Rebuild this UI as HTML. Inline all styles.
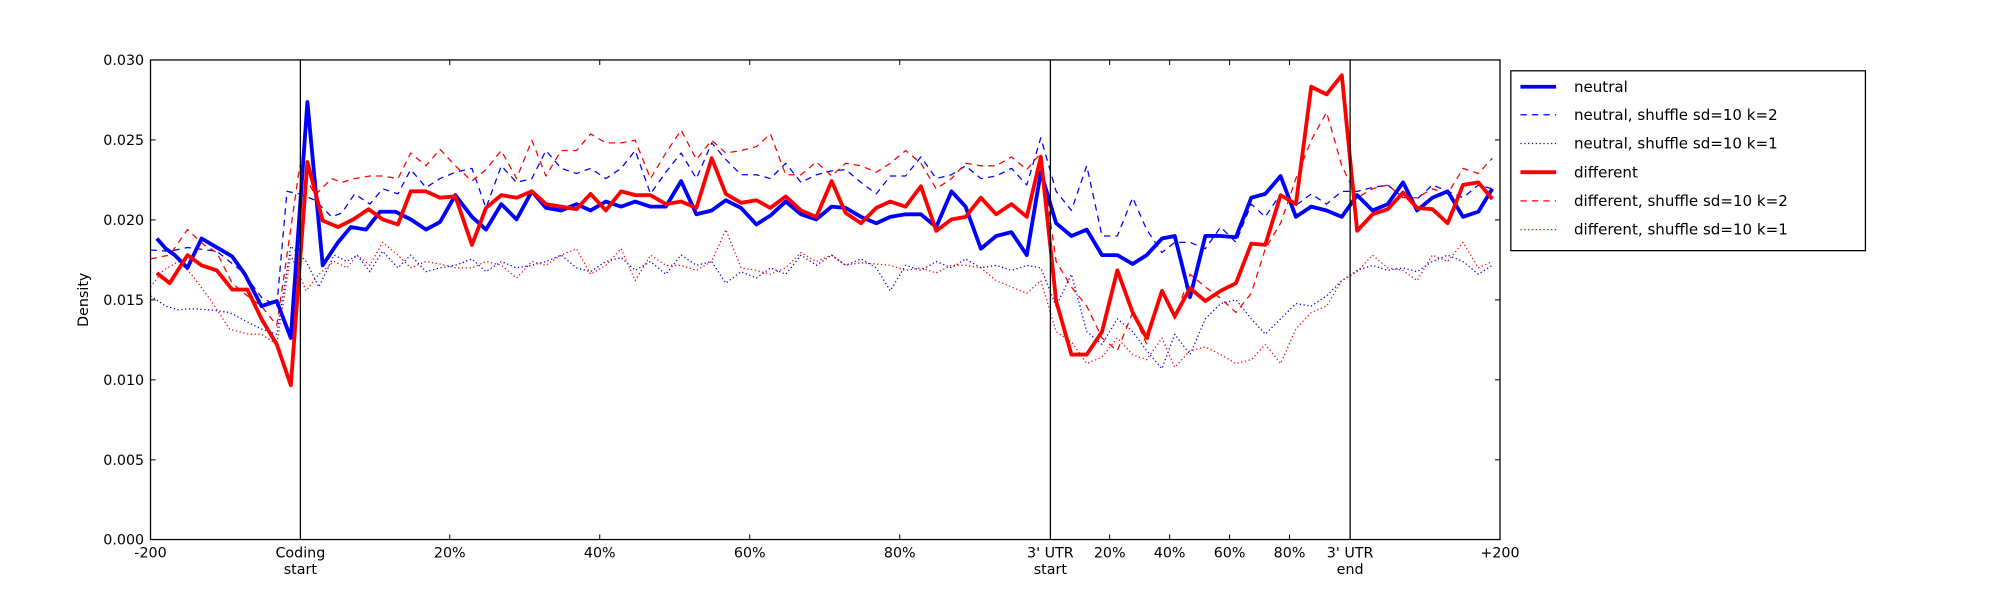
<!DOCTYPE html>
<html><head><meta charset="utf-8"><style>html,body{margin:0;padding:0;background:#fff}svg{display:block}</style></head>
<body>
<svg width="2000" height="600" viewBox="0 0 1568 470.4" preserveAspectRatio="none" xmlns="http://www.w3.org/2000/svg" font-family="DejaVu Sans, Liberation Sans, sans-serif" font-size="11.2">
<rect x="0" y="0" width="1568" height="470.4" fill="#fff"/>
<g fill="none" stroke-linejoin="round">
<!-- blue dotted -->
<polyline stroke="#0000ff" stroke-width="1" stroke-dasharray="1,2" points="118,232 130,240 140,243 150,242 165,243 180,245 195,253 205,258 217,262 228,193 240,205 250,225 262,200 272,205 280,200 290,213 300,197 312,210 322,200 334,213 345,210 357,208 370,203 381,213 393,205 405,210 417,208 428,205 440,200 452,210 463,213 475,205 487,202 498,212 510,205 522,215 534,200 546,208 558,205 569,222 581,213 593,218 604,210 616,215 628,200 640,208 652,200 663,208 675,203 687,210 698,228 710,208 722,212 734,205 746,210 757,203 769,210 781,208 793,212 805,208 816,210 828,240 840,215 852,260 864,270 876,250 888,260 899,275 911,289 921,262 933,278 945,250 957,238 969,235 981,250 992,262 1004,250 1016,238 1028,240 1040,232 1052,220 1064,212 1076,208 1088,212 1100,210 1111,213 1123,205 1135,200 1147,205 1159,215 1170,208"/>
<!-- red dotted -->
<polyline stroke="#ff0000" stroke-width="1" stroke-dasharray="1,2" points="118,225 128,212 140,205 150,215 165,235 180,258 195,262 205,262 217,270 228,200 240,228 250,215 262,205 272,210 280,200 290,208 300,190 312,200 322,210 334,205 345,207 357,210 370,210 381,205 393,208 405,218 417,205 428,208 440,200 452,195 463,215 475,208 487,195 498,220 510,200 522,208 534,208 546,212 558,205 569,180 581,210 593,212 604,215 616,210 628,198 640,205 652,200 663,208 675,206 687,207 698,208 710,212 722,210 734,214 746,208 757,208 769,210 781,220 793,225 805,230 816,220 828,260 840,268 852,285 864,280 876,265 888,278 899,282 911,265 921,288 933,275 945,272 957,278 969,285 981,282 992,270 1004,285 1016,258 1028,245 1040,240 1052,220 1064,213 1076,200 1088,210 1100,212 1111,220 1123,200 1135,205 1147,190 1159,210 1170,205"/>
<!-- blue dashed -->
<polyline stroke="#0000ff" stroke-width="1" stroke-dasharray="5,4" points="118,196 133,197 147,194 170,197 190,213 205,233 217,240 225,150 235,152 247,157 260,170 268,167 278,152 290,160 300,148 312,152 322,133 334,147 345,140 357,135 370,132 381,163 393,130 405,143 417,140 428,118 440,132 452,136 463,132 475,140 487,132 498,118 510,152 522,135 534,120 546,140 558,112 569,125 581,137 593,137 604,140 616,128 628,143 640,137 652,134 663,133 675,143 687,152 698,138 710,138 722,123 734,140 746,137 757,130 769,140 781,138 793,132 805,145 816,108 828,150 840,165 852,130 864,185 876,185 888,155 899,180 911,198 921,190 933,190 945,195 957,178 969,190 981,160 992,170 1004,152 1016,161 1028,152 1040,160 1052,150 1064,150 1076,147 1088,145 1100,155 1111,156 1123,145 1135,150 1147,155 1159,145 1170,148"/>
<!-- red dashed -->
<polyline stroke="#ff0000" stroke-width="1" stroke-dasharray="5,4" points="118,203 133,200 147,180 160,192 170,198 182,222 194,232 205,240 217,255 225,200 235,130 247,153 260,140 268,143 278,140 290,138 300,138 312,140 322,120 334,130 345,117 357,130 370,142 381,133 393,118 405,140 417,110 428,138 440,118 452,118 463,105 475,112 487,112 498,110 510,140 522,120 534,102 546,125 558,110 569,120 581,118 593,115 604,105 616,137 628,137 640,127 652,138 663,128 675,130 687,135 698,128 710,118 722,128 734,148 746,140 757,128 769,130 781,130 793,123 805,133 816,120 828,205 840,225 852,240 864,265 876,275 888,245 899,270 911,228 921,250 933,215 945,225 957,234 969,245 981,230 992,195 1004,175 1016,140 1028,110 1040,88 1052,130 1064,155 1076,148 1088,145 1100,155 1111,155 1123,148 1135,152 1147,132 1159,136 1170,124"/>
<!-- blue thick -->
<polyline stroke="#0000ff" stroke-width="3" points="123,187 130,195 137,200 147,210 158,187 170,194 182,201 192,215 205,240 217,236 228,265 241,80 253,208 265,190 275,178 287,180 298,166 310,166 322,172 334,180 345,174 357,153 370,170 381,180 393,160 405,172 417,150 428,163 440,165 452,160 463,165 475,158 487,162 498,158 510,162 522,162 534,142 546,168 558,165 569,157 581,163 593,176 604,169 616,158 628,168 640,172 652,162 663,163 675,170 687,175 698,170 710,168 722,168 734,178 746,150 757,162 769,195 781,185 793,182 805,200 816,135 828,175 840,185 852,180 864,200 876,200 888,207 899,200 911,187 921,185 933,233 945,185 957,185 969,186 981,155 992,152 1004,138 1016,170 1028,162 1040,165 1052,170 1064,153 1076,165 1088,160 1100,143 1111,165 1123,155 1135,150 1147,170 1159,166 1170,148"/>
<!-- red thick -->
<polyline stroke="#ff0000" stroke-width="3" points="123,214 133,222 147,200 158,208 170,212 182,227 194,227 205,250 217,270 228,302 241,127 253,173 265,178 277,172 289,164 300,172 312,176 322,150 334,150 345,155 357,154 370,192 381,163 393,153 405,155 417,150 428,160 440,162 452,164 463,152 475,165 487,150 498,153 510,153 522,160 534,158 546,163 558,124 569,152 581,159 593,157 604,163 616,154 628,165 640,170 652,142 663,167 675,175 687,163 698,158 710,162 722,146 734,181 746,172 757,170 769,155 781,168 793,160 805,170 816,123 828,236 840,278 852,278 864,260 876,212 888,245 899,265 911,228 921,248 933,226 945,236 957,228 969,222 981,191 992,192 1004,153 1016,160 1028,68 1040,74 1052,59 1064,181 1076,168 1088,164 1100,151 1111,163 1123,164 1135,175 1147,145 1159,143 1170,156"/>
</g>
<!-- vertical lines -->
<g stroke="#000" stroke-width="1">
<line x1="235.5" y1="47" x2="235.5" y2="423"/>
<line x1="823.5" y1="47" x2="823.5" y2="423"/>
<line x1="1058.5" y1="47" x2="1058.5" y2="423"/>
</g>
<!-- ticks -->
<g stroke="#000" stroke-width="0.8">
<line x1="118" y1="109.7" x2="122" y2="109.7"/><line x1="1176" y1="109.7" x2="1172" y2="109.7"/>
<line x1="118" y1="172.4" x2="122" y2="172.4"/><line x1="1176" y1="172.4" x2="1172" y2="172.4"/>
<line x1="118" y1="235.1" x2="122" y2="235.1"/><line x1="1176" y1="235.1" x2="1172" y2="235.1"/>
<line x1="118" y1="297.8" x2="122" y2="297.8"/><line x1="1176" y1="297.8" x2="1172" y2="297.8"/>
<line x1="118" y1="360.5" x2="122" y2="360.5"/><line x1="1176" y1="360.5" x2="1172" y2="360.5"/>
<line x1="352.6" y1="423" x2="352.6" y2="419"/><line x1="352.6" y1="47" x2="352.6" y2="51"/>
<line x1="470.2" y1="423" x2="470.2" y2="419"/><line x1="470.2" y1="47" x2="470.2" y2="51"/>
<line x1="587.8" y1="423" x2="587.8" y2="419"/><line x1="587.8" y1="47" x2="587.8" y2="51"/>
<line x1="705.4" y1="423" x2="705.4" y2="419"/><line x1="705.4" y1="47" x2="705.4" y2="51"/>
<line x1="870" y1="423" x2="870" y2="419"/><line x1="870" y1="47" x2="870" y2="51"/>
<line x1="917" y1="423" x2="917" y2="419"/><line x1="917" y1="47" x2="917" y2="51"/>
<line x1="964" y1="423" x2="964" y2="419"/><line x1="964" y1="47" x2="964" y2="51"/>
<line x1="1011" y1="423" x2="1011" y2="419"/><line x1="1011" y1="47" x2="1011" y2="51"/>
</g>
<rect x="118" y="47" width="1058" height="376" fill="none" stroke="#000" stroke-width="1"/>
<!-- y labels -->
<g text-anchor="end" fill="#000">
<text x="113" y="51">0.030</text>
<text x="113" y="113.7">0.025</text>
<text x="113" y="176.4">0.020</text>
<text x="113" y="239.1">0.015</text>
<text x="113" y="301.8">0.010</text>
<text x="113" y="364.5">0.005</text>
<text x="113" y="427">0.000</text>
</g>
<text transform="translate(69,235) rotate(-90)" text-anchor="middle">Density</text>
<!-- x labels -->
<g text-anchor="middle" fill="#000">
<text x="118" y="437">-200</text>
<text x="235.5" y="437">Coding</text><text x="235.5" y="450">start</text>
<text x="352.6" y="437">20%</text>
<text x="470.2" y="437">40%</text>
<text x="587.8" y="437">60%</text>
<text x="705.4" y="437">80%</text>
<text x="823.5" y="437">3' UTR</text><text x="823.5" y="450">start</text>
<text x="870" y="437">20%</text>
<text x="917" y="437">40%</text>
<text x="964" y="437">60%</text>
<text x="1011" y="437">80%</text>
<text x="1058.5" y="437">3' UTR</text><text x="1058.5" y="450">end</text>
<text x="1176" y="437">+200</text>
</g>
<!-- legend -->
<rect x="1184.5" y="55.5" width="278" height="141" fill="#fff" stroke="#000" stroke-width="1"/>
<g fill="none">
<line x1="1192" y1="68" x2="1220" y2="68" stroke="#0000ff" stroke-width="3"/>
<line x1="1192" y1="90" x2="1220" y2="90" stroke="#0000ff" stroke-width="1" stroke-dasharray="5,4"/>
<line x1="1192" y1="112.5" x2="1220" y2="112.5" stroke="#0000ff" stroke-width="1" stroke-dasharray="1,2"/>
<line x1="1192" y1="135" x2="1220" y2="135" stroke="#ff0000" stroke-width="3"/>
<line x1="1192" y1="157.5" x2="1220" y2="157.5" stroke="#ff0000" stroke-width="1" stroke-dasharray="5,4"/>
<line x1="1192" y1="180" x2="1220" y2="180" stroke="#ff0000" stroke-width="1" stroke-dasharray="1,2"/>
</g>
<g fill="#000" font-size="11.8">
<text x="1234" y="72">neutral</text>
<text x="1234" y="94">neutral, shuffle sd=10 k=2</text>
<text x="1234" y="116.5">neutral, shuffle sd=10 k=1</text>
<text x="1234" y="139">different</text>
<text x="1234" y="161.5">different, shuffle sd=10 k=2</text>
<text x="1234" y="184">different, shuffle sd=10 k=1</text>
</g>
</svg>
</body></html>
